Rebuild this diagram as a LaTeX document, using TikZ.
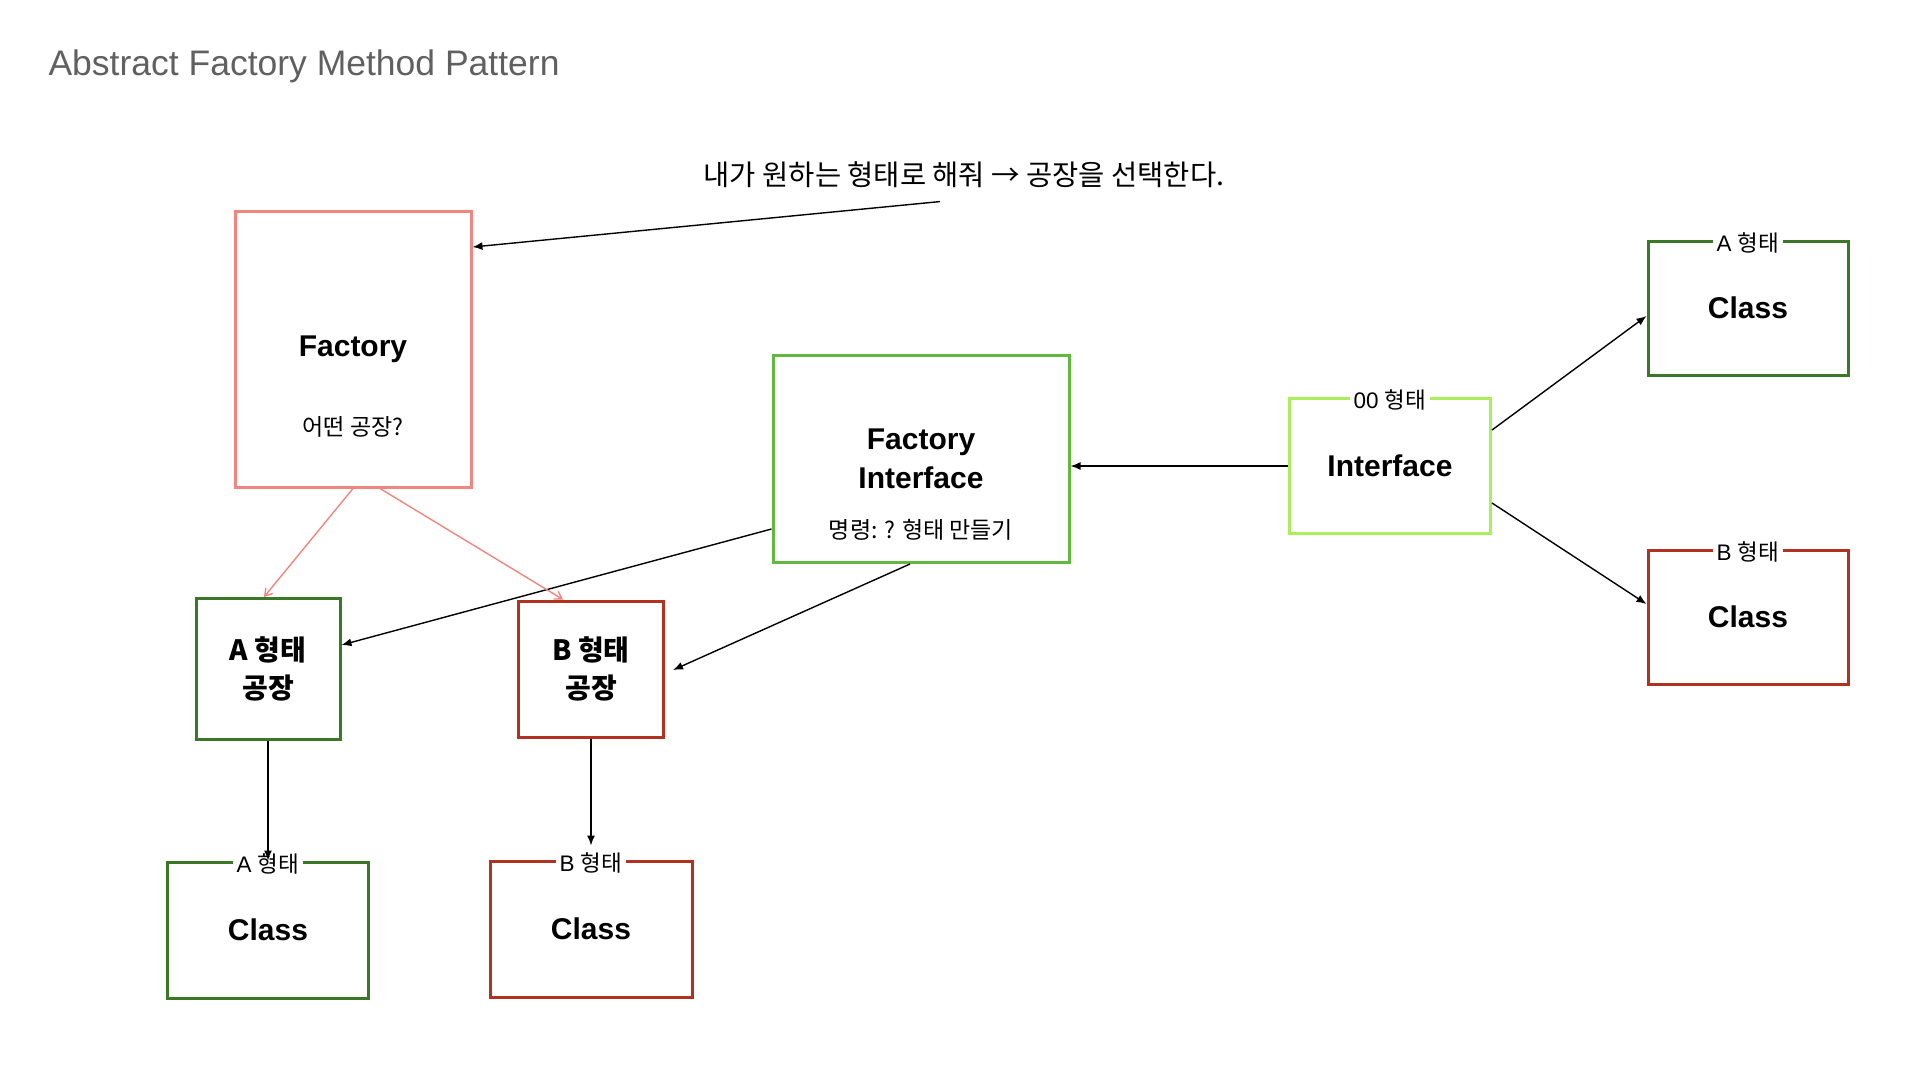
\documentclass[tikz,border=0pt]{standalone}
\usepackage{fontspec}
\setmainfont{Liberation Sans}
\newfontfamily\kr{Noto Sans CJK KR}
\usetikzlibrary{arrows.meta}

\definecolor{salmon}{RGB}{240,134,126}
\definecolor{fgreen}{RGB}{98,184,62}
\definecolor{lgreen}{RGB}{170,238,92}
\definecolor{dgreen}{RGB}{58,120,40}
\definecolor{dred}{RGB}{178,50,34}
\definecolor{titlegray}{RGB}{96,96,96}

\begin{document}
\begin{tikzpicture}[x=1pt, y=-1pt,
    box/.style={draw=#1, line width=3pt, fill=white, inner sep=0pt, align=center,
        font=\fontsize{30}{39}\selectfont\bfseries},
    sub/.style={font=\kr\fontsize{23}{28}\selectfont},
    tag/.style={fill=white, inner sep=4pt, yshift=-3pt, font=\fontsize{22.5}{27}\selectfont},
    link/.style={-{Latex[length=10pt,width=8pt]}, line width=1.4pt},
    pink/.style={-{Straight Barb[length=7pt,width=9pt]}, line width=1.4pt, salmon},
]
\useasboundingbox (0,0) rectangle (1920,1080);

\node[anchor=west, titlegray, font=\fontsize{35.5}{42}\selectfont] (title) at (45,66) {Abstract Factory Method Pattern};
\node[font=\kr\fontsize{28.5}{34}\selectfont] (note) at (964,175) {내가 원하는 형태로 해줘 → 공장을 선택한다.};

% factory side
\node[box=salmon, minimum width=236, minimum height=276] (fac) at (353,349) {Factory};
\node[sub] (fac-sub) at (353,427) {어떤 공장?};

\node[box=fgreen, minimum width=296, minimum height=207] (fi) at (921,459) {Factory\\Interface};
\node[sub] (fi-sub) at (921,530) {명령: ? 형태 만들기};

\node[box=lgreen, minimum width=201, minimum height=135] (ifc) at (1390,466) {Interface};
\node[tag] (ifc-tag) at (ifc.north) {00 {\kr 형태}};

% products on the right
\node[box=dgreen, minimum width=200, minimum height=134] (clsA) at (1748,308) {Class};
\node[tag] (clsA-tag) at (clsA.north) {A {\kr 형태}};
\node[box=dred, minimum width=200, minimum height=134] (clsB) at (1748,617) {Class};
\node[tag] (clsB-tag) at (clsB.north) {B {\kr 형태}};

% concrete factories
\node[box=dgreen, minimum width=144, minimum height=141, font=\kr\fontsize{28}{38}\selectfont\bfseries] (facA) at (268,669) {A 형태\\공장};
\node[box=dred, minimum width=145, minimum height=136, font=\kr\fontsize{28}{38}\selectfont\bfseries] (facB) at (591,669) {B 형태\\공장};

\node[box=dgreen, minimum width=201, minimum height=136] (prodA) at (268,930) {Class};
\node[box=dred, minimum width=202, minimum height=136] (prodB) at (591,929) {Class};
\node[tag] (prodA-tag) at (prodA.north) {A {\kr 형태}};
\node[tag] (prodB-tag) at (prodB.north) {B {\kr 형태}};

% connectors
\draw[link] ([shift={(-24pt,-10pt)}]note.south) -- ([yshift=102pt]fac.east);
\draw[link] (ifc.west) -- (ifc.west -| fi.east);
\draw[link] ([yshift=36pt]ifc.east) -- ([yshift=-8pt]clsA.west);
\draw[link] ([yshift=-37pt]ifc.east) -- ([yshift=13pt]clsB.west);
\draw[link] ([yshift=-70pt]fi.west) -- ([yshift=24pt]facA.east);
\draw[link] ([xshift=-11pt]fi.south) -- ([shift={(8pt,-1pt)}]facB.east);
\draw[pink] (fac.south) -- ([xshift=-4pt]facA.north);
\draw[pink] ([xshift=27pt]fac.south) -- ([xshift=-28pt]facB.north);
\draw[link] (facA.south) -- (prodA.north);
\draw[link] (facB.south) -- ([yshift=14pt]prodB.north);
\end{tikzpicture}
\end{document}
